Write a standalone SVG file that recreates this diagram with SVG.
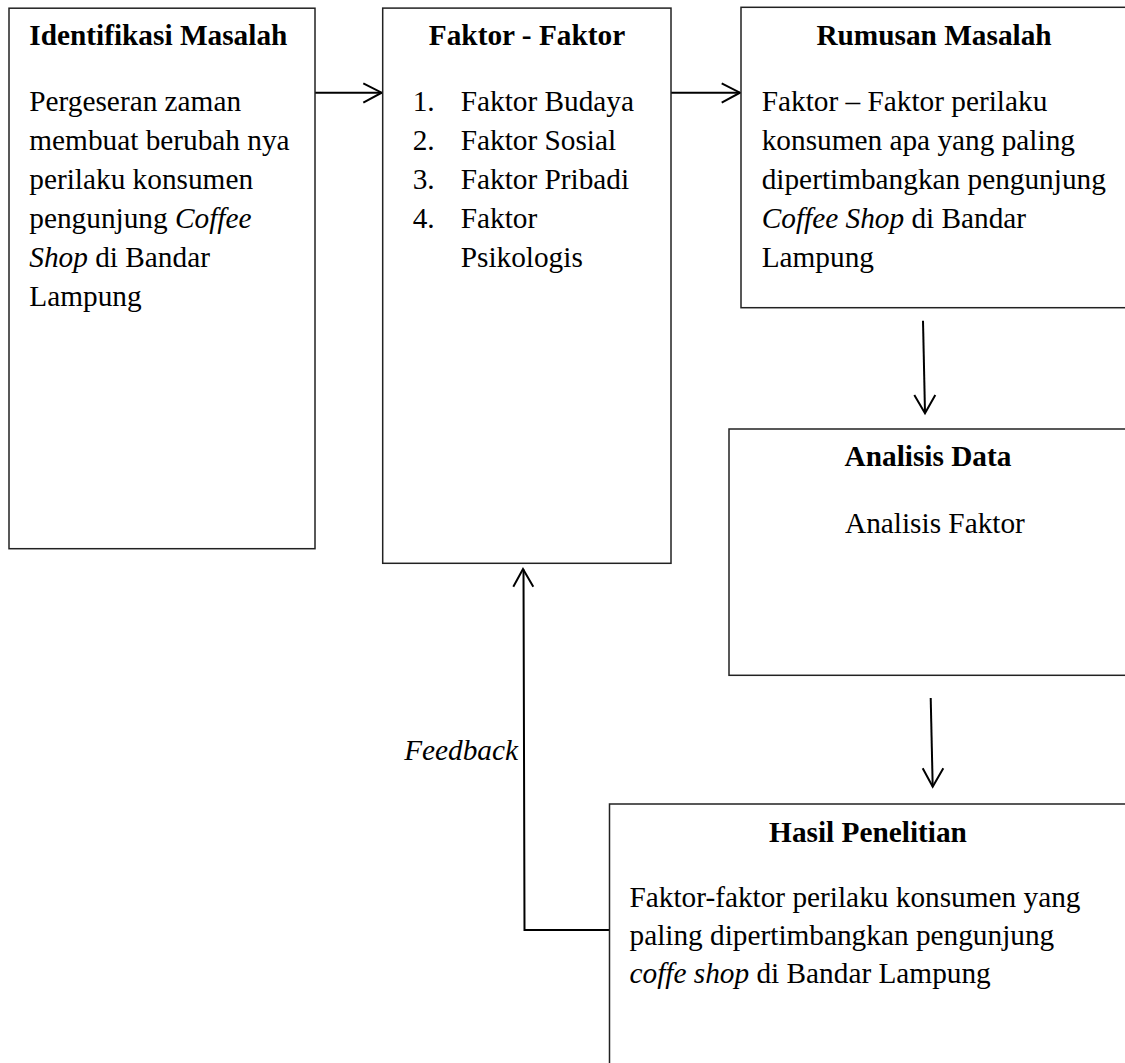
<svg xmlns="http://www.w3.org/2000/svg" width="1125" height="1063" viewBox="0 0 1125 1063">
<style>
.box{fill:#fff;stroke:#222;stroke-width:1.5}
text{font-family:"Liberation Serif","Times New Roman",serif;font-size:29.3px;fill:#000}
.h{font-weight:bold}
.c{text-anchor:middle}
.i{font-style:italic}
.ln{fill:none;stroke:#000;stroke-width:2}
</style>
<rect width="1125" height="1063" fill="#fff"/>
<g id="connectors">
<line class="ln" x1="315" y1="92.7" x2="381.5" y2="92.7"/>
<polyline class="ln" points="363.3,83.3 381.7,92.7 363.3,102.7"/>
<line class="ln" x1="671" y1="92.7" x2="740" y2="92.7"/>
<polyline class="ln" points="721.7,83.3 740,92.7 721.7,102.7"/>
<line class="ln" x1="923" y1="320.7" x2="925" y2="413"/>
<polyline class="ln" points="914.3,395 925,413.3 935.3,395"/>
<line class="ln" x1="930.7" y1="698" x2="932.7" y2="786.5"/>
<polyline class="ln" points="922.7,768.3 932.7,786.7 943.3,768.3"/>
<polyline class="ln" points="609.5,930 524.5,930 523.5,569.5"/>
<polyline class="ln" points="513.3,586.7 523,569 533.3,586.7"/>
<text class="i" x="518" y="760" text-anchor="end">Feedback</text>
</g>
<g id="identifikasi">
<rect class="box" x="9" y="8.2" width="306" height="540.5"/>
<text class="h" x="29.3" y="45">Identifikasi Masalah</text>
<text x="29.3" y="111">Pergeseran zaman</text>
<text x="29.3" y="150">membuat berubah nya</text>
<text x="29.3" y="189">perilaku konsumen</text>
<text x="29.3" y="228">pengunjung <tspan class="i">Coffee</tspan></text>
<text x="29.3" y="267"><tspan class="i">Shop</tspan> di Bandar</text>
<text x="29.3" y="306">Lampung</text>
</g>
<g id="faktor">
<rect class="box" x="382.7" y="8.1" width="288.3" height="555.2"/>
<text class="h c" x="527" y="45">Faktor - Faktor</text>
<text x="412.7" y="111">1.</text><text x="460.7" y="111">Faktor Budaya</text>
<text x="412.7" y="150">2.</text><text x="460.7" y="150">Faktor Sosial</text>
<text x="412.7" y="189">3.</text><text x="460.7" y="189">Faktor Pribadi</text>
<text x="412.7" y="228">4.</text><text x="460.7" y="228">Faktor</text>
<text x="460.7" y="267">Psikologis</text>
</g>
<g id="rumusan">
<rect class="box" x="741" y="7.3" width="395" height="300.4"/>
<text class="h c" x="934" y="45">Rumusan Masalah</text>
<text x="761.7" y="111">Faktor – Faktor perilaku</text>
<text x="761.7" y="150">konsumen apa yang paling</text>
<text x="761.7" y="189">dipertimbangkan pengunjung</text>
<text x="761.7" y="228"><tspan class="i">Coffee Shop</tspan> di Bandar</text>
<text x="761.7" y="267">Lampung</text>
</g>
<g id="analisis">
<rect class="box" x="729" y="429" width="407" height="246.3"/>
<text class="h c" x="928" y="466">Analisis Data</text>
<text x="845" y="532.6">Analisis Faktor</text>
</g>
<g id="hasil">
<rect class="box" x="609.5" y="804" width="527" height="270"/>
<text class="h c" x="868" y="842">Hasil Penelitian</text>
<text x="629.5" y="907">Faktor-faktor perilaku konsumen yang</text>
<text x="629.5" y="945">paling dipertimbangkan pengunjung</text>
<text x="629.5" y="983"><tspan class="i">coffe shop</tspan> di Bandar Lampung</text>
</g>
</svg>
